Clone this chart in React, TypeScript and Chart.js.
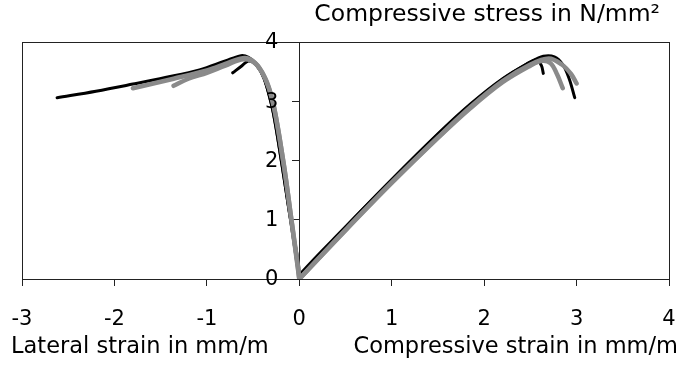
import React, { useEffect, useRef } from "react";
import { Chart, registerables } from "chart.js";

Chart.register(...registerables);

// Axis ranges and tick labels
const xTicks = [-3, -2, -1, 0, 1, 2, 3, 4];
const yTicks = [0, 1, 2, 3, 4];

const yTitle = "Compressive stress in N/mm²";
const xTitleLeft = "Lateral strain in mm/m";
const xTitleRight = "Compressive strain in mm/m";

// Specimen curves, [strain, stress]
const blackALateral: [number, number][] = [
  [0, 0], [-0.01, 0.27], [-0.1, 1.06], [-0.19, 1.96], [-0.28, 2.8], [-0.33, 3.12],
  [-0.38, 3.38], [-0.46, 3.62], [-0.55, 3.74], [-0.63, 3.77], [-0.8, 3.68],
  [-1.08, 3.53], [-1.45, 3.4], [-1.8, 3.29], [-2.2, 3.17], [-2.62, 3.06],
];
const blackACompressive: [number, number][] = [
  [0, 0], [0.02, 0.1], [0.5, 0.88], [1.0, 1.68], [1.5, 2.45], [1.85, 2.95],
  [2.2, 3.38], [2.5, 3.66], [2.64, 3.76], [2.76, 3.75], [2.85, 3.62],
  [2.92, 3.38], [2.98, 3.06],
];
const blackBLateral: [number, number][] = [
  [0, 0], [-0.1, 1.05], [-0.19, 1.95], [-0.28, 2.8], [-0.38, 3.38],
  [-0.47, 3.62], [-0.55, 3.68], [-0.62, 3.6], [-0.72, 3.48],
];
const blackBCompressive: [number, number][] = [
  [0, 0], [0.5, 0.87], [1.0, 1.67], [1.5, 2.44], [1.85, 2.94], [2.2, 3.37],
  [2.45, 3.62], [2.57, 3.7], [2.62, 3.6], [2.64, 3.47],
];
const grayCLateral: [number, number][] = [
  [0, 0], [-0.02, 0.27], [-0.09, 1.06], [-0.17, 1.96], [-0.26, 2.8], [-0.3, 3.08],
  [-0.36, 3.36], [-0.45, 3.6], [-0.55, 3.72], [-0.64, 3.72], [-0.8, 3.63],
  [-1.0, 3.52], [-1.36, 3.38], [-1.8, 3.22],
];
const grayCCompressive: [number, number][] = [
  [0, 0], [0.5, 0.82], [1.0, 1.62], [1.5, 2.38], [1.85, 2.88], [2.2, 3.32],
  [2.5, 3.6], [2.62, 3.68], [2.72, 3.64], [2.79, 3.45], [2.85, 3.22],
];
const grayDLateral: [number, number][] = [
  [0, 0], [-0.09, 1.05], [-0.17, 1.95], [-0.3, 3.07], [-0.45, 3.6],
  [-0.6, 3.71], [-0.8, 3.6], [-1.0, 3.48], [-1.2, 3.38], [-1.36, 3.26],
];
const grayDCompressive: [number, number][] = [
  [0, 0], [0.5, 0.83], [1.0, 1.63], [1.5, 2.39], [1.85, 2.9], [2.2, 3.34],
  [2.5, 3.62], [2.7, 3.72], [2.84, 3.62], [2.94, 3.46], [3.0, 3.3],
];

const BLACK = "#000000";
const GRAY = "#8a8a8a";

const FONT = "'DejaVu Sans', 'Liberation Sans', Arial, sans-serif";

function toPoints(arr: [number, number][]) {
  return arr.map(([x, y]) => ({ x, y }));
}

export default function App() {
  const canvasRef = useRef<HTMLCanvasElement | null>(null);

  useEffect(() => {
    const canvas = canvasRef.current;
    if (!canvas) return;

    const line = (data: [number, number][], color: string, width: number) => ({
      data: toPoints(data),
      borderColor: color,
      backgroundColor: color,
      borderWidth: width,
      pointRadius: 0,
      showLine: true,
      fill: false,
      tension: 0.35,
      borderCapStyle: "round" as const,
      borderJoinStyle: "round" as const,
    });

    const framePlugin = {
      id: "frameAndTitles",
      beforeDatasetsDraw(chart: any) {
        const { ctx, chartArea } = chart;
        ctx.save();
        ctx.strokeStyle = "#222";
        ctx.lineWidth = 1;
        ctx.strokeRect(
          Math.round(chartArea.left) + 0.5,
          Math.round(chartArea.top) + 0.5,
          Math.round(chartArea.right - chartArea.left),
          Math.round(chartArea.bottom - chartArea.top)
        );
        ctx.restore();
      },
      afterDraw(chart: any) {
        const { ctx } = chart;
        const xs = chart.scales.x;
        const ys = chart.scales.y;
        ctx.save();
        ctx.fillStyle = "#000";
        // y tick labels, left of the axis at x = 0
        ctx.font = `21px ${FONT}`;
        ctx.textAlign = "right";
        ctx.textBaseline = "middle";
        const axisX = xs.getPixelForValue(0);
        yTicks.forEach((v) => {
          ctx.fillText(String(v), axisX - 21, ys.getPixelForValue(v) + 1);
        });
        // titles
        ctx.textBaseline = "alphabetic";
        ctx.font = `23.5px ${FONT}`;
        ctx.textAlign = "right";
        ctx.fillText(yTitle, 660, 21);
        ctx.font = `22.5px ${FONT}`;
        ctx.textAlign = "left";
        ctx.fillText(xTitleLeft, 11, 353);
        ctx.textAlign = "right";
        ctx.fillText(xTitleRight, 678, 353);
        ctx.restore();
      },
    };

    const chart = new Chart(canvas, {
      type: "scatter",
      data: {
        datasets: [
          line(grayCLateral, GRAY, 4.5),
          line(grayCCompressive, GRAY, 4.5),
          line(grayDLateral, GRAY, 4.5),
          line(grayDCompressive, GRAY, 4.5),
          line(blackALateral, BLACK, 3),
          line(blackACompressive, BLACK, 3),
          line(blackBLateral, BLACK, 3),
          line(blackBCompressive, BLACK, 3),
        ],
      },
      options: {
        animation: false,
        responsive: false,
        devicePixelRatio: 1,
        layout: { padding: { left: 22, right: 17, top: 42, bottom: 0 } },
        plugins: {
          legend: { display: false },
          tooltip: { enabled: false },
          title: { display: false },
        },
        scales: {
          x: {
            type: "linear",
            position: "bottom",
            min: xTicks[0],
            max: xTicks[xTicks.length - 1],
            afterBuildTicks: (scale: any) => {
              scale.ticks = xTicks.map((v) => ({ value: v }));
            },
            afterFit: (scale: any) => {
              scale.height = 87;
              scale.paddingLeft = 0;
              scale.paddingRight = 0;
            },
            ticks: {
              color: "#000",
              font: { family: FONT, size: 21 },
              padding: 21,
              maxRotation: 0,
              autoSkip: false,
            },
            grid: {
              display: true,
              drawOnChartArea: false,
              drawTicks: true,
              tickLength: 7,
              color: "#222",
            },
            border: { display: true, color: "#222" },
          },
          y: {
            type: "linear",
            position: { x: 0 } as any,
            min: yTicks[0],
            max: yTicks[yTicks.length - 1],
            z: 1,
            afterBuildTicks: (scale: any) => {
              scale.ticks = yTicks.map((v) => ({ value: v }));
            },
            afterFit: (scale: any) => {
              scale.paddingTop = 0;
              scale.paddingBottom = 0;
            },
            ticks: {
              display: false,
            },
            grid: {
              display: true,
              drawOnChartArea: false,
              drawTicks: true,
              tickLength: 7,
              color: "#222",
            },
            border: { display: true, color: "#222" },
          },
        },
      },
      plugins: [framePlugin],
    });

    return () => chart.destroy();
  }, []);

  return (
    <div style={{ position: "absolute", left: 0, top: 0, width: 686, height: 366, background: "#fff" }}>
      <canvas ref={canvasRef} width={686} height={366} style={{ display: "block" }} />
    </div>
  );
}
